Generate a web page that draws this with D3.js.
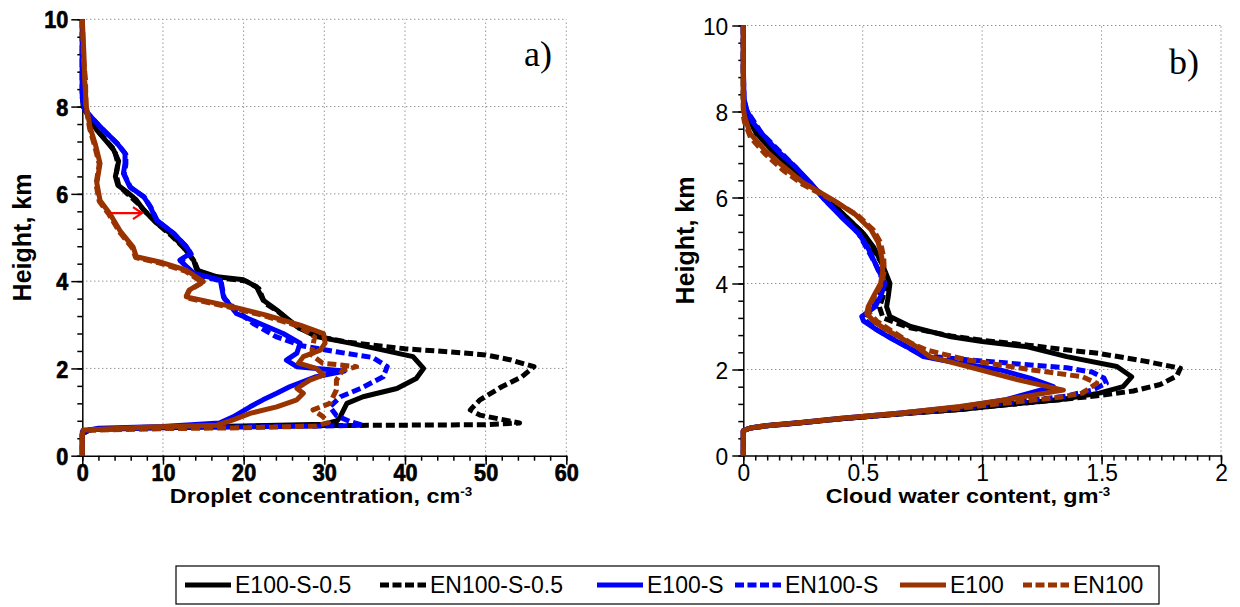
<!DOCTYPE html>
<html>
<head>
<meta charset="utf-8">
<script src="https://cdn.jsdelivr.net/npm/d3@7"></script>
<style>
body { margin: 0; background: #fff; }
svg { display: block; font-family: "Liberation Sans", Arial, sans-serif; }
</style>
</head>
<body>
<div id="chart"></div>
<script>
// ---- series (legend order) ----
var seriesNames  = ["E100-S-0.5", "EN100-S-0.5", "E100-S", "EN100-S", "E100", "EN100"];
var seriesColors = ["#000000", "#000000", "#0000ff", "#0000ff", "#993300", "#993300"];
var seriesDashed = [false, true, false, true, false, true];

// ---- panel a) droplet concentration (cm-3) vs height (km): [x, h] ----
var dropE100S05 = [[0,10],[0,8.3],[0.1,8.0],[1.0,7.7],[1.8,7.46],[3.0,7.2],[3.9,7.0],[4.5,6.75],[4.3,6.55],[4.1,6.4],[4.4,6.2],[5.5,6.05],[6.7,5.86],[7.6,5.63],[9.2,5.33],[10.9,5.1],[12.5,4.79],[13.8,4.48],[14.2,4.25],[16.7,4.1],[20.0,4.03],[21.6,3.87],[22.4,3.57],[24.1,3.34],[26.6,2.96],[29.0,2.73],[33.2,2.58],[37.3,2.42],[41.0,2.27],[42.3,2.0],[41.4,1.77],[39.0,1.54],[34.8,1.35],[32.8,1.2],[32.0,0.9],[31.6,0.8],[30.0,0.72],[20,0.68],[10,0.65],[1,0.6],[0,0.5],[0,0]];
var dropEN100S05 = [[0,10],[0,8.3],[0.2,8.0],[1.9,7.45],[4.0,7.0],[4.4,6.7],[4.2,6.45],[4.5,6.2],[5.6,6.0],[6.8,5.8],[7.8,5.6],[9.4,5.3],[11.0,5.05],[12.6,4.76],[13.9,4.45],[14.4,4.22],[17.0,4.08],[20.3,4.0],[21.9,3.83],[22.6,3.5],[24.3,3.3],[26.8,2.93],[29.5,2.72],[33,2.6],[40,2.45],[45.5,2.38],[50,2.31],[53,2.2],[56,2.04],[54.5,1.81],[52,1.58],[49.3,1.28],[48.1,1.05],[49.3,0.93],[54.2,0.75],[50,0.71],[40,0.7],[30,0.69],[20,0.67],[10,0.64],[1,0.6],[0,0.5],[0,0]];
var dropE100S = [[0,10],[0,8.2],[0.3,7.92],[2.2,7.54],[4.3,7.16],[5.3,6.93],[5.3,6.7],[5.1,6.47],[5.9,6.16],[7.6,5.94],[8.4,5.71],[9.2,5.4],[11.3,5.1],[12.9,4.79],[13.4,4.64],[12.1,4.48],[13.8,4.18],[17.1,4.03],[17.5,3.64],[19.1,3.26],[22.0,3.03],[24.9,2.8],[27.0,2.58],[26.6,2.35],[25.3,2.19],[26.6,2.04],[32.5,1.94],[29.0,1.81],[25.7,1.58],[24.1,1.43],[22.4,1.28],[20.8,1.12],[18.7,0.89],[17.0,0.75],[10,0.67],[2,0.63],[0,0.55],[0,0]];
var dropEN100S = [[0,10],[0,8.2],[0.4,7.9],[2.3,7.52],[4.4,7.14],[5.4,6.9],[5.4,6.68],[5.2,6.45],[6.0,6.14],[7.7,5.92],[8.5,5.69],[9.3,5.38],[11.4,5.08],[13.0,4.77],[13.5,4.62],[12.2,4.46],[13.9,4.16],[17.2,4.0],[17.6,3.6],[19.3,3.3],[21.2,3.03],[24.0,2.73],[27.2,2.52],[31.5,2.38],[36.0,2.25],[37.8,2.04],[37.3,1.81],[34.6,1.55],[32.0,1.35],[30.7,1.12],[31.5,0.92],[33.2,0.78],[34.8,0.7],[30,0.68],[20,0.66],[10,0.64],[1,0.6],[0,0.5],[0,0]];
var dropE100 = [[0,10],[0.2,9.2],[0.3,8.6],[0.5,8.0],[1.0,7.5],[1.6,7.15],[2.2,6.7],[1.8,6.25],[2.2,5.85],[3.4,5.55],[4.7,5.15],[6.3,4.78],[6.7,4.56],[9.6,4.44],[12.9,4.25],[15.0,3.99],[13.3,3.8],[12.9,3.64],[18.7,3.41],[22.8,3.22],[27.0,2.99],[29.9,2.8],[30.1,2.58],[29.5,2.42],[27.4,2.27],[26.8,2.12],[29.0,2.0],[29.9,1.85],[28.2,1.73],[26.6,1.54],[27.4,1.43],[26.6,1.28],[24.1,1.12],[20.8,0.97],[18.7,0.82],[16.7,0.7],[8.4,0.66],[0.1,0.59],[0,0.44],[0,0]];
var dropEN100 = [[0,10],[0.15,9.1],[0.4,8.6],[0.45,8.0],[0.9,7.5],[1.5,7.12],[2.1,6.68],[1.7,6.22],[2.1,5.83],[3.3,5.53],[4.6,5.13],[6.2,4.76],[6.6,4.54],[9.5,4.42],[12.8,4.23],[14.9,3.97],[13.2,3.78],[12.8,3.62],[18.6,3.39],[22.7,3.2],[26.8,2.97],[28.8,2.72],[28.5,2.45],[28.5,2.3],[29.8,2.12],[34,2.04],[32.3,1.96],[31.5,1.73],[31.5,1.51],[30.7,1.2],[28.6,1.05],[29.8,0.9],[30.5,0.76],[29,0.68],[20,0.64],[10,0.62],[0.5,0.58],[0,0.5],[0,0]];

// ---- panel b) cloud water content (g m-3) vs height (km) ----
var cwcE100S05 = [[0,10],[0,8.3],[0.007,8.03],[0.03,7.75],[0.056,7.49],[0.12,7.1],[0.196,6.72],[0.27,6.35],[0.356,5.94],[0.43,5.55],[0.502,5.17],[0.545,4.85],[0.58,4.47],[0.614,4.0],[0.607,3.7],[0.6,3.46],[0.614,3.23],[0.7,3.0],[0.87,2.76],[1.0,2.65],[1.19,2.53],[1.354,2.3],[1.564,2.07],[1.626,1.83],[1.59,1.6],[1.49,1.45],[1.33,1.3],[1.1,1.18],[0.907,1.07],[0.66,0.97],[0.4,0.85],[0.24,0.76],[0.1,0.69],[0.03,0.64],[0,0.58],[0,0]];
var cwcEN100S05 = [[0,10],[0,8.3],[0.007,8.0],[0.058,7.46],[0.2,6.7],[0.36,5.92],[0.505,5.15],[0.582,4.45],[0.6,4.0],[0.585,3.7],[0.57,3.45],[0.585,3.2],[0.69,2.98],[0.87,2.78],[1.0,2.68],[1.2,2.56],[1.35,2.46],[1.494,2.37],[1.675,2.2],[1.83,2.03],[1.815,1.85],[1.745,1.65],[1.633,1.5],[1.5,1.4],[1.33,1.3],[1.1,1.18],[0.907,1.07],[0.66,0.97],[0.4,0.85],[0.24,0.76],[0.1,0.69],[0.03,0.64],[0,0.58],[0,0]];
var cwcE100S = [[0,10],[0,9.1],[0.003,8.3],[0.014,8.03],[0.04,7.75],[0.077,7.49],[0.14,7.1],[0.216,6.72],[0.28,6.35],[0.342,5.94],[0.41,5.55],[0.482,5.17],[0.52,4.85],[0.552,4.47],[0.593,4.0],[0.575,3.7],[0.552,3.46],[0.496,3.23],[0.503,3.13],[0.559,2.92],[0.62,2.72],[0.684,2.53],[0.754,2.3],[0.83,2.22],[1.075,1.99],[1.2,1.8],[1.298,1.6],[1.1,1.3],[0.907,1.13],[0.66,0.99],[0.4,0.86],[0.24,0.77],[0.1,0.7],[0.03,0.64],[0,0.58],[0,0]];
var cwcEN100S = [[0,10],[0,9.0],[0.003,8.3],[0.014,8.03],[0.077,7.49],[0.216,6.72],[0.342,5.94],[0.482,5.17],[0.552,4.47],[0.59,4.0],[0.56,3.6],[0.52,3.3],[0.51,3.15],[0.56,2.92],[0.684,2.53],[0.754,2.32],[0.95,2.22],[1.15,2.13],[1.354,2.04],[1.46,1.94],[1.51,1.8],[1.52,1.68],[1.46,1.52],[1.35,1.38],[1.1,1.22],[0.907,1.1],[0.66,0.97],[0.4,0.85],[0.24,0.76],[0.1,0.69],[0.03,0.64],[0,0.58],[0,0]];
var cwcE100 = [[0,10],[0,8.1],[0.005,7.9],[0.028,7.49],[0.09,7.1],[0.168,6.72],[0.25,6.35],[0.377,5.94],[0.47,5.6],[0.535,5.25],[0.565,4.95],[0.58,4.6],[0.584,4.3],[0.575,4.0],[0.55,3.75],[0.523,3.46],[0.517,3.3],[0.55,3.1],[0.6,2.92],[0.67,2.7],[0.726,2.53],[0.78,2.3],[0.94,2.07],[1.15,1.76],[1.34,1.52],[1.1,1.3],[0.907,1.14],[0.66,0.99],[0.4,0.86],[0.24,0.77],[0.1,0.7],[0.03,0.64],[0,0.58],[0,0]];
var cwcEN100 = [[0,10],[0,7.9],[0.005,7.75],[0.03,7.4],[0.09,7.02],[0.165,6.64],[0.25,6.3],[0.38,5.92],[0.48,5.58],[0.545,5.24],[0.575,4.95],[0.588,4.6],[0.59,4.3],[0.58,4.0],[0.555,3.75],[0.528,3.48],[0.525,3.32],[0.56,3.12],[0.62,2.9],[0.7,2.62],[0.768,2.45],[0.94,2.22],[1.21,1.99],[1.42,1.83],[1.48,1.68],[1.42,1.45],[1.33,1.36],[1.1,1.22],[0.907,1.1],[0.66,0.97],[0.4,0.85],[0.24,0.76],[0.1,0.69],[0.03,0.64],[0,0.58],[0,0]];

// ---- ticks ----
var heightTicks = [0, 2, 4, 6, 8, 10];
var dropTicks = [0, 10, 20, 30, 40, 50, 60];
var cwcTicks = [0, 0.5, 1, 1.5, 2];
var cwcTickLabels = ["0", "0.5", "1", "1.5", "2"];

// red arrow in panel a (data coords)
var arrowFrom = [3.4, 5.56];
var arrowTo = [7.4, 5.56];

var FONT = "'Liberation Sans', Arial, sans-serif";

var svg = d3.select("#chart").append("svg")
    .attr("width", 1240)
    .attr("height", 607);

function drawPanel(p) {
  var x = d3.scaleLinear().domain(p.xDomain).range([p.left, p.right]);
  var y = d3.scaleLinear().domain([0, 10]).range([p.bottom, p.top]);
  var g = svg.append("g");

  // dotted grid
  g.selectAll(".vgrid").data(p.xTicks.slice(1)).enter().append("line")
      .attr("x1", function(d) { return x(d); }).attr("x2", function(d) { return x(d); })
      .attr("y1", y(0)).attr("y2", y(10))
      .attr("stroke", "#666").attr("stroke-width", 1).attr("stroke-dasharray", "1,3");
  g.selectAll(".hgrid").data(heightTicks.slice(1)).enter().append("line")
      .attr("y1", function(d) { return y(d); }).attr("y2", function(d) { return y(d); })
      .attr("x1", x(p.xDomain[0])).attr("x2", x(p.xDomain[1]))
      .attr("stroke", "#666").attr("stroke-width", 1).attr("stroke-dasharray", "1,3");

  // minor ticks
  g.append("g").attr("transform", "translate(0," + y(0) + ")")
      .call(d3.axisBottom(x).tickValues(p.xMinor).tickSize(5).tickSizeOuter(0).tickFormat(""))
      .call(function(a) { a.select(".domain").remove(); });
  g.append("g").attr("transform", "translate(" + x(0) + ",0)")
      .call(d3.axisLeft(y).tickValues(d3.range(0, 26).map(function(i) { return i * 0.4; })).tickSize(5).tickSizeOuter(0).tickFormat(""))
      .call(function(a) { a.select(".domain").remove(); });

  // major axes
  var xa = g.append("g").attr("transform", "translate(0," + y(0) + ")")
      .call(d3.axisBottom(x).tickValues(p.xTicks).tickSize(9).tickSizeOuter(0).tickFormat(p.xFormat));
  var ya = g.append("g").attr("transform", "translate(" + x(0) + ",0)")
      .call(d3.axisLeft(y).tickValues(heightTicks).tickSize(11).tickSizeOuter(0));
  g.selectAll(".domain, .tick line").attr("stroke", "#000").attr("stroke-width", 1.5);
  g.selectAll(".tick text").attr("font-family", FONT);

  xa.selectAll(".tick text")
      .attr("y", 0).attr("dy", 0)
      .attr("transform", "translate(0," + p.xLabelBase + ") scale(" + p.tickScale + ",1)");
  ya.selectAll(".tick text")
      .attr("x", 0).attr("dy", "0.36em")
      .attr("transform", "translate(" + (-p.yLabelGap) + ",0) scale(" + p.tickScale + ",1)");
  g.selectAll(".tick text")
      .attr("font-size", p.tickFont).attr("font-weight", p.tickWeight).attr("fill", "#000")
      .attr("stroke", p.tickStroke ? "#000" : null).attr("stroke-width", p.tickStroke || null);

  // profiles
  var line = d3.line().x(function(d) { return x(d[0]); }).y(function(d) { return y(d[1]); });
  p.series.forEach(function(s, i) {
    g.append("path").datum(s)
        .attr("d", line)
        .attr("fill", "none")
        .attr("stroke", seriesColors[i])
        .attr("stroke-width", 5)
        .attr("stroke-linejoin", "round")
        .attr("stroke-dasharray", seriesDashed[i] ? "9,4" : null);
  });

  // axis titles
  var xt = g.append("text")
      .attr("text-anchor", "middle")
      .style("font-size", "21px").style("font-weight", "bold");
  xt.append("tspan").text(p.xTitle);
  xt.append("tspan").attr("dy", -7).style("font-size", "12px").text("-3");
  var bw = xt.node().getBBox().width;
  xt.attr("transform", "translate(" + p.xTitleX + "," + p.xTitleY + ") scale(" + (p.xTitleW / bw) + ",1)");

  g.append("text")
      .attr("text-anchor", "middle")
      .attr("transform", "translate(" + p.yTitleX + "," + ((p.top + p.bottom) / 2) + ") rotate(-90)")
      .style("font-size", "25px").style("font-weight", "bold")
      .text("Height, km");

  // panel letter
  g.append("text")
      .attr("x", p.letterX).attr("y", p.letterY)
      .style("font-family", "'Liberation Serif', 'Times New Roman', serif")
      .style("font-size", "36px")
      .text(p.letter);

  return {x: x, y: y, g: g};
}

var pa = drawPanel({
  left: 82.3, right: 566.3, top: 19.3, bottom: 455.7,
  xDomain: [0, 60], xTicks: dropTicks,
  xMinor: d3.range(0, 31).map(function(i) { return i * 2; }),
  xFormat: d3.format("d"),
  tickFont: 24, tickWeight: "bold", tickScale: 0.9, tickStroke: 0.7, xLabelBase: 25.5, yLabelGap: 14,
  series: [dropE100S05, dropEN100S05, dropE100S, dropEN100S, dropE100, dropEN100],
  xTitle: "Droplet concentration, cm", xTitleX: 321, xTitleY: 503, xTitleW: 303,
  yTitleX: 31,
  letter: "a)", letterX: 524, letterY: 66
});

var pb = drawPanel({
  left: 743.3, right: 1221, top: 25.5, bottom: 455.5,
  xDomain: [0, 2], xTicks: cwcTicks,
  xMinor: d3.range(0, 41).map(function(i) { return i * 0.05; }),
  xFormat: function(d, i) { return cwcTickLabels[i]; },
  tickFont: 24, tickWeight: "normal", tickScale: 0.95, tickStroke: 0, xLabelBase: 25.5, yLabelGap: 15,
  series: [cwcE100S05, cwcEN100S05, cwcE100S, cwcEN100S, cwcE100, cwcEN100],
  xTitle: "Cloud water content, gm", xTitleX: 968, xTitleY: 503, xTitleW: 285,
  yTitleX: 694,
  letter: "b)", letterX: 1169, letterY: 74
});

// red arrow
var ax0 = pa.x(arrowFrom[0]), ax1 = pa.x(arrowTo[0]), ay = pa.y(arrowFrom[1]);
pa.g.append("path")
    .attr("d", "M" + ax0 + "," + ay + "H" + ax1 + "M" + (ax1 - 9) + "," + (ay - 6) + "L" + ax1 + "," + ay + "L" + (ax1 - 9) + "," + (ay + 6))
    .attr("fill", "none").attr("stroke", "#ff0000").attr("stroke-width", 2.2);

// legend
var legendX = [185, 380, 597, 735, 900, 1023];
var legend = svg.append("g");
legend.append("rect")
    .attr("x", 176).attr("y", 566).attr("width", 983).attr("height", 38)
    .attr("fill", "#fff").attr("stroke", "#000").attr("stroke-width", 1.2);
var items = legend.selectAll(".item").data(seriesNames).enter().append("g")
    .attr("transform", function(d, i) { return "translate(" + legendX[i] + ",585)"; });
items.append("line")
    .attr("x1", 0).attr("x2", 46).attr("y1", 0).attr("y2", 0)
    .attr("stroke", function(d, i) { return seriesColors[i]; })
    .attr("stroke-width", 5)
    .attr("stroke-dasharray", function(d, i) { return seriesDashed[i] ? "9,3.5" : null; });
items.append("text")
    .attr("x", 50).attr("y", 8)
    .style("font-size", "23px")
    .text(function(d) { return d; });
</script>
</body>
</html>
